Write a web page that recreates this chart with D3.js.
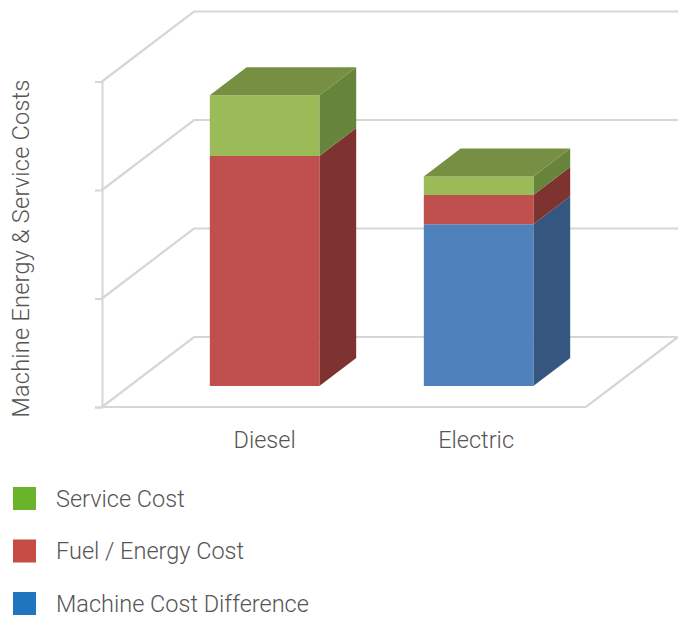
<!DOCTYPE html>
<html>
<head>
<meta charset="utf-8">
<script src="https://d3js.org/d3.v7.min.js"></script>
<style>
  html, body { margin: 0; padding: 0; background: #fff; }
  svg { display: block; }
  text { font-family: Roboto, "Liberation Sans", Arial, sans-serif; font-weight: 300; fill: #555; }
</style>
</head>
<body>
<svg id="chart" width="678" height="617"></svg>
<script>
// values (no scale printed, units are gridline steps)
const categories = ['Diesel', 'Electric'];
const machineCost = [0, 1.49];
const fuelCost = [2.12, 0.27];
const serviceCost = [0.56, 0.17];
const yTicks = [0, 1, 2, 3];
const legendOrder = ['Service Cost', 'Fuel / Energy Cost', 'Machine Cost Difference'];

const faceColors = ['#4f81bd', '#c0504d', '#9bbb59'];
const sideColors = ['#35567f', '#7f3331', '#67853a'];
const topColor = '#778f42';
const legendColors = { 'Service Cost': '#6ab42a', 'Fuel / Energy Cost': '#c44c44', 'Machine Cost Difference': '#1f76bf' };
const gridColor = '#d6d6d6';
const fontSize = '23.5px';

const svg = d3.select('#chart');

const x = d3.scaleBand().domain(categories).range([130, 558]);
const y = d3.scaleLinear().domain([0, 3]).range([407, 81.5]);
// 3d offset, 0 = front of the floor, 1 = back wall
const depthX = d3.scaleLinear().domain([0, 1]).range([0, 92]);
const depthY = d3.scaleLinear().domain([0, 1]).range([0, -70]);
const barFront = 0.3;
const barBack = 0.7;
const barWidth = x.bandwidth() * 0.512;

const pt = (px, v, d) => [px + depthX(d), y(v) + depthY(d)];
const poly = pts => d3.line()(pts) + 'Z';

const floorLeft = 102;
const floorRight = 586;

// wall and floor lines
const grid = svg.append('g').attr('fill', 'none').attr('stroke', gridColor).attr('stroke-width', 2.2);
yTicks.forEach(t => {
    grid.append('path').attr('d', d3.line()([pt(floorLeft, t, 0), pt(floorLeft, t, 1), [678, y(t) + depthY(1)]]));
});
grid.append('path').attr('d', d3.line()([pt(floorLeft, 0, 0), pt(floorRight, 0, 0), pt(floorRight, 0, 1)]));

// y axis, tick labels were blank in the original
const yAxis = svg.append('g')
    .attr('transform', `translate(${floorLeft},0)`)
    .call(d3.axisLeft(y).tickValues(yTicks).tickSize(7).tickFormat(''));
yAxis.selectAll('.domain, line').attr('stroke', gridColor).attr('stroke-width', 2);

// stacked boxes
const rows = categories.map((c, i) => ({ category: c, m: machineCost[i], f: fuelCost[i], s: serviceCost[i] }));
const stacked = d3.stack().keys(['m', 'f', 's'])(rows);

categories.forEach((c, i) => {
    const left = x(c) + (x.bandwidth() - barWidth) / 2;
    const right = left + barWidth;
    const g = svg.append('g');
    stacked.forEach((layer, k) => {
        const [v0, v1] = layer[i];
        if (v1 === v0) return;
        g.append('path').attr('fill', sideColors[k])
            .attr('d', poly([pt(right, v0, barFront), pt(right, v0, barBack), pt(right, v1, barBack), pt(right, v1, barFront)]));
        g.append('path').attr('fill', faceColors[k])
            .attr('d', poly([pt(left, v0, barFront), pt(right, v0, barFront), pt(right, v1, barFront), pt(left, v1, barFront)]));
    });
    const top = d3.max(stacked, layer => layer[i][1]);
    g.append('path').attr('fill', topColor)
        .attr('d', poly([pt(left, top, barFront), pt(right, top, barFront), pt(right, top, barBack), pt(left, top, barBack)]));
});

// category labels
const xAxis = svg.append('g')
    .attr('transform', `translate(${depthX(barFront)},431)`)
    .call(d3.axisBottom(x).tickSize(0).tickPadding(0));
xAxis.select('.domain').remove();
xAxis.selectAll('text')
    .attr('dx', (d, i) => (i === 1 ? -2.5 : 0))
    .style('font-family', 'Roboto, "Liberation Sans", Arial, sans-serif')
    .style('font-size', fontSize)
    .style('fill', '#555');

// y title
svg.append('text')
    .attr('transform', 'translate(29,248.5) rotate(-90)')
    .attr('text-anchor', 'middle')
    .style('font-size', fontSize)
    .style('letter-spacing', '0.24px')
    .text('Machine Energy & Service Costs');

// legend
const legendY = d3.scalePoint().domain(legendOrder).range([498.5, 603.5]);
const legend = svg.append('g').selectAll('g').data(legendOrder).enter().append('g')
    .attr('transform', d => `translate(0,${legendY(d)})`);
legend.append('rect')
    .attr('x', 13).attr('y', -11.5).attr('width', 23).attr('height', 23)
    .attr('fill', d => legendColors[d]);
legend.append('text')
    .attr('x', 56).attr('y', 8)
    .style('font-size', fontSize)
    .text(d => d);
</script>
</body>
</html>
